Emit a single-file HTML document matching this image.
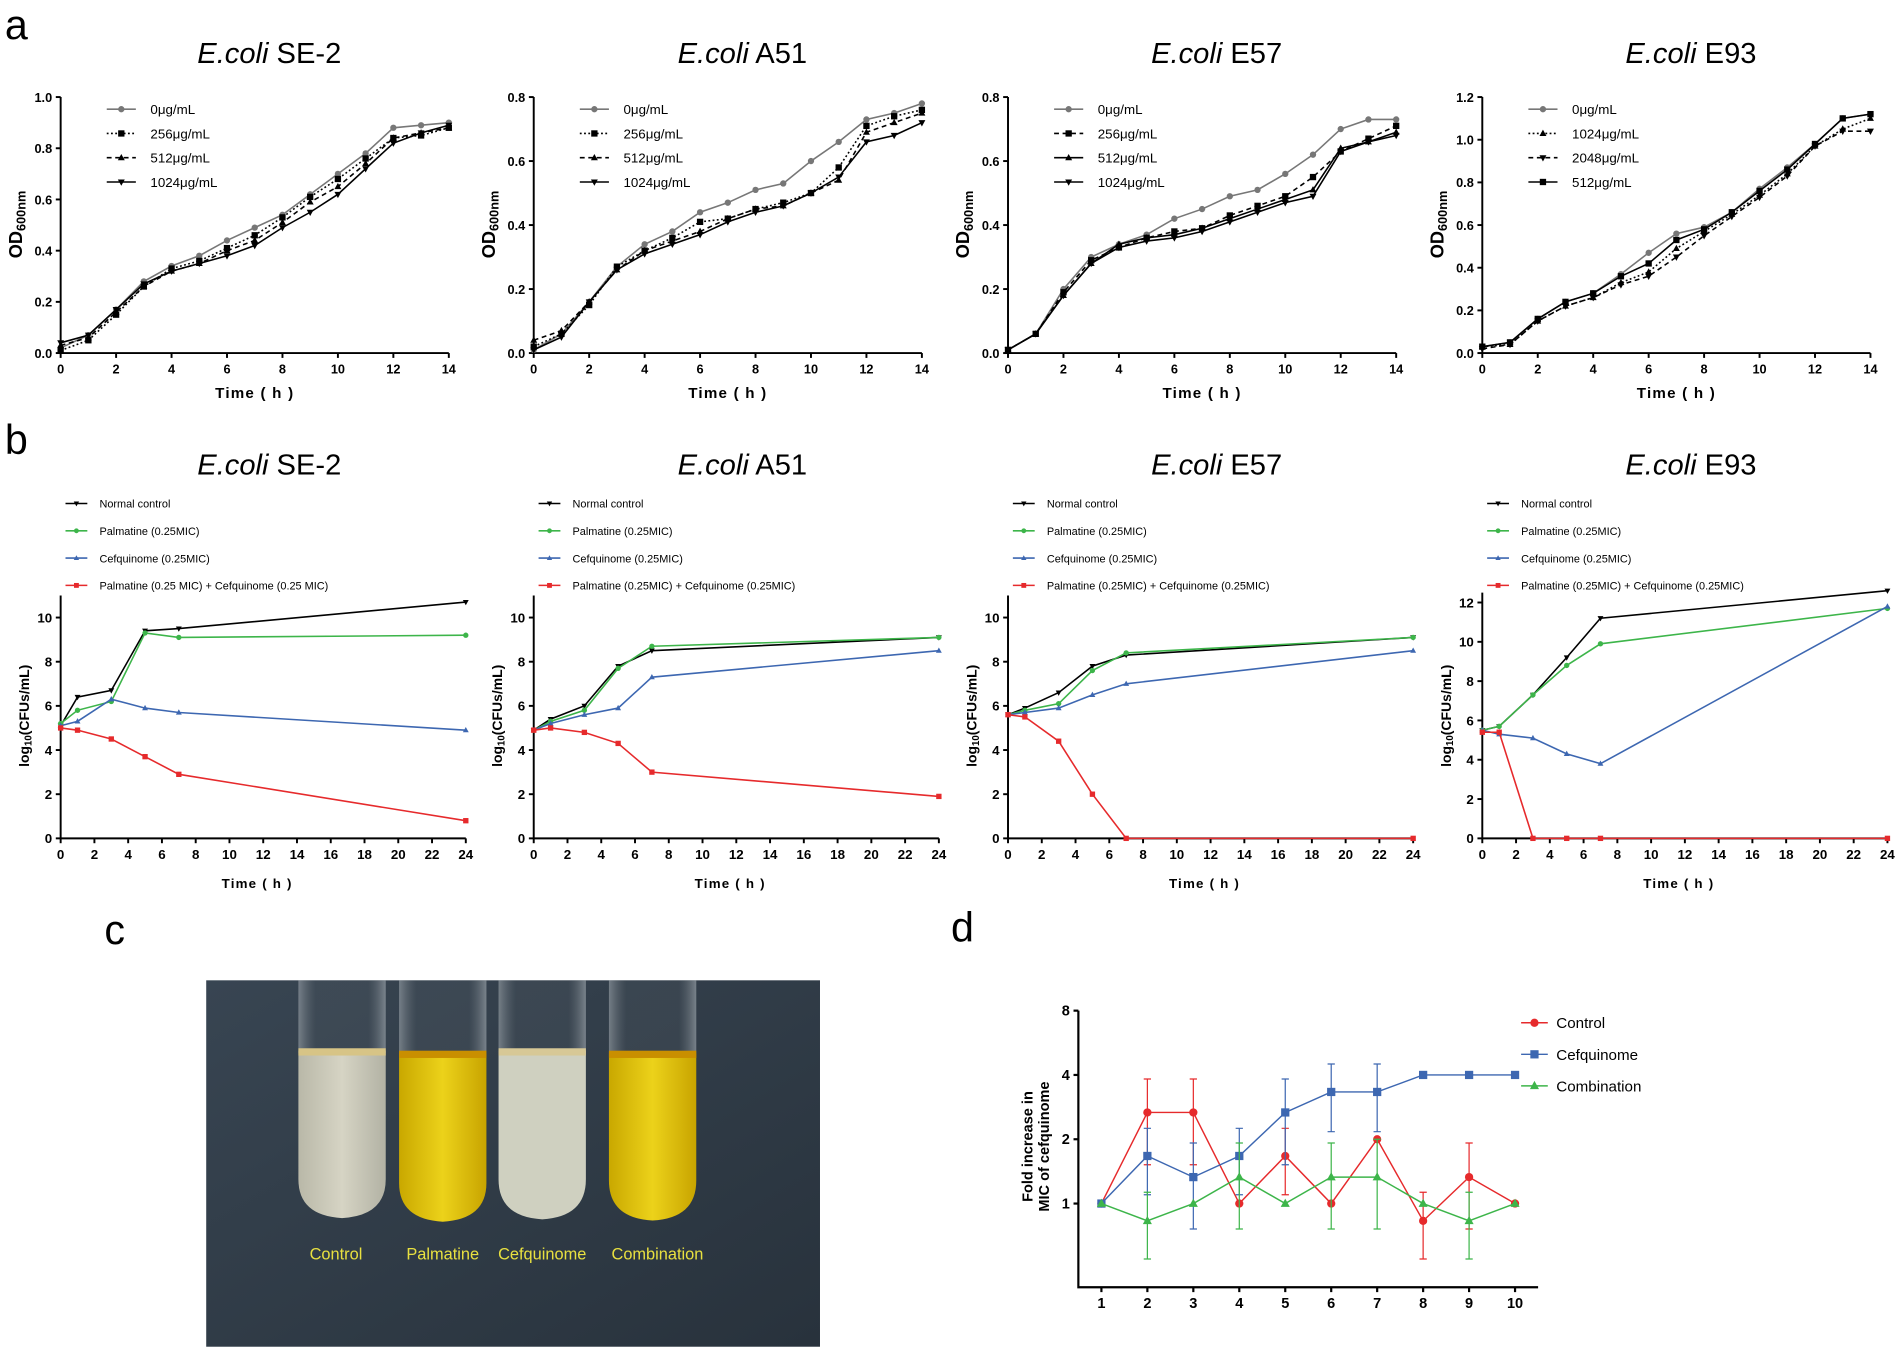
<!DOCTYPE html>
<html><head><meta charset="utf-8"><style>
html,body{margin:0;padding:0;background:#fff;}
svg{display:block;font-family:"Liberation Sans",Arial,sans-serif;}
</style></head><body>
<svg id="fig" width="1902" height="1354" viewBox="0 0 1568 1116" preserveAspectRatio="none" xmlns="http://www.w3.org/2000/svg">
<rect x="0" y="0" width="1568" height="1116" fill="#fff"/>
<text x="4" y="32" font-size="34">a</text>
<text x="4" y="374" font-size="34">b</text>
<text x="86" y="778" font-size="34">c</text>
<text x="784" y="776" font-size="34">d</text>
<defs>
<linearGradient id="bg" x1="0" y1="0" x2="1" y2="1"><stop offset="0" stop-color="#384552"/><stop offset="1" stop-color="#28323c"/></linearGradient>
<linearGradient id="clear" x1="0" x2="1"><stop offset="0" stop-color="#b9b8a8"/><stop offset="0.5" stop-color="#d6d4c4"/><stop offset="1" stop-color="#b2b2a4"/></linearGradient>
<linearGradient id="yel" x1="0" x2="1"><stop offset="0" stop-color="#c9a800"/><stop offset="0.5" stop-color="#ecd21a"/><stop offset="1" stop-color="#c8a400"/></linearGradient>
<linearGradient id="glass" x1="0" x2="1"><stop offset="0" stop-color="#a0a8ae" stop-opacity="0.6"/><stop offset="0.2" stop-color="#5b646c" stop-opacity="0.2"/><stop offset="0.8" stop-color="#5b646c" stop-opacity="0.2"/><stop offset="1" stop-color="#a8b0b6" stop-opacity="0.6"/></linearGradient>
</defs>
<g>
<rect x="170" y="808" width="506" height="302" fill="url(#bg)"/>
<g><rect x="246" y="808" width="72" height="60" fill="url(#glass)"/><path d="M246 866 H318 V972 Q318 1002 282 1004 Q246 1002 246 972 Z" fill="url(#clear)"/><rect x="246" y="864" width="72" height="6" fill="#d7c486"/></g>
<g><rect x="329" y="808" width="72" height="60" fill="url(#glass)"/><path d="M329 868 H401 V975 Q401 1005 365 1007 Q329 1005 329 975 Z" fill="url(#yel)"/><rect x="329" y="866" width="72" height="6" fill="#c98f00"/></g>
<g><rect x="411" y="808" width="72" height="60" fill="url(#glass)"/><path d="M411 866 H483 V972 Q483 1003 447 1005 Q411 1003 411 972 Z" fill="#cfd0c0"/><rect x="411" y="864" width="72" height="6" fill="#d7c896"/></g>
<g><rect x="502" y="808" width="72" height="60" fill="url(#glass)"/><path d="M502 868 H574 V973 Q574 1004 538 1006 Q502 1004 502 973 Z" fill="url(#yel)"/><rect x="502" y="866" width="72" height="6" fill="#c98f00"/></g>
<g font-size="13.5" fill="#e8e040" text-anchor="middle">
<text x="277" y="1038">Control</text>
<text x="365" y="1038">Palmatine</text>
<text x="447" y="1038">Cefquinome</text>
<text x="542" y="1038">Combination</text>
</g>
</g>
</svg>
<script>
// ---------- Panel a data ----------
const aTimes = [0,1,2,3,4,5,6,7,8,9,10,11,12,13,14];
const aTicksX = [0,2,4,6,8,10,12,14];
const aSE2_0    = [0.02,0.07,0.17,0.28,0.34,0.38,0.44,0.49,0.54,0.62,0.70,0.78,0.88,0.89,0.90];
const aSE2_256  = [0.01,0.05,0.15,0.26,0.33,0.36,0.41,0.46,0.53,0.61,0.68,0.76,0.84,0.85,0.88];
const aSE2_512  = [0.03,0.06,0.16,0.26,0.32,0.35,0.40,0.44,0.51,0.59,0.65,0.74,0.84,0.86,0.88];
const aSE2_1024 = [0.04,0.07,0.17,0.27,0.32,0.35,0.38,0.42,0.49,0.55,0.62,0.72,0.82,0.86,0.89];
const aA51_0    = [0.01,0.06,0.16,0.27,0.34,0.38,0.44,0.47,0.51,0.53,0.60,0.66,0.73,0.75,0.78];
const aA51_256  = [0.02,0.06,0.15,0.27,0.32,0.36,0.41,0.42,0.45,0.47,0.50,0.58,0.71,0.74,0.76];
const aA51_512  = [0.04,0.07,0.16,0.26,0.32,0.35,0.38,0.42,0.45,0.46,0.50,0.54,0.69,0.72,0.75];
const aA51_1024 = [0.01,0.05,0.16,0.26,0.31,0.34,0.37,0.41,0.44,0.46,0.50,0.55,0.66,0.68,0.72];
const aE57_0    = [0.01,0.06,0.20,0.30,0.34,0.37,0.42,0.45,0.49,0.51,0.56,0.62,0.70,0.73,0.73];
const aE57_256  = [0.01,0.06,0.19,0.29,0.33,0.36,0.38,0.39,0.43,0.46,0.49,0.55,0.63,0.67,0.71];
const aE57_512  = [0.01,0.06,0.18,0.28,0.34,0.36,0.37,0.39,0.42,0.45,0.48,0.51,0.64,0.66,0.69];
const aE57_1024 = [0.01,0.06,0.18,0.28,0.33,0.35,0.36,0.38,0.41,0.44,0.47,0.49,0.63,0.66,0.68];
const aE93_0    = [0.03,0.05,0.16,0.24,0.28,0.37,0.47,0.56,0.59,0.66,0.77,0.87,0.98,1.10,1.12];
const aE93_1024 = [0.03,0.04,0.15,0.22,0.26,0.33,0.38,0.49,0.57,0.65,0.74,0.84,0.97,1.05,1.10];
const aE93_2048 = [0.02,0.04,0.15,0.22,0.26,0.32,0.36,0.45,0.55,0.64,0.73,0.83,0.97,1.04,1.04];
const aE93_512  = [0.03,0.05,0.16,0.24,0.28,0.36,0.42,0.53,0.58,0.66,0.76,0.86,0.98,1.10,1.12];
// ---------- Panel b data ----------
const bTimes = [0,1,3,5,7,24];
const bTicksX = [0,2,4,6,8,10,12,14,16,18,20,22,24];
const bSE2_normal = [5.1,6.4,6.7,9.4,9.5,10.7];
const bSE2_palm   = [5.2,5.8,6.2,9.3,9.1,9.2];
const bSE2_cef    = [5.1,5.3,6.3,5.9,5.7,4.9];
const bSE2_comb   = [5.0,4.9,4.5,3.7,2.9,0.8];
const bA51_normal = [4.9,5.4,6.0,7.8,8.5,9.1];
const bA51_palm   = [4.9,5.3,5.8,7.7,8.7,9.1];
const bA51_cef    = [4.9,5.2,5.6,5.9,7.3,8.5];
const bA51_comb   = [4.9,5.0,4.8,4.3,3.0,1.9];
const bE57_normal = [5.6,5.9,6.6,7.8,8.3,9.1];
const bE57_palm   = [5.6,5.8,6.1,7.6,8.4,9.1];
const bE57_cef    = [5.6,5.7,5.9,6.5,7.0,8.5];
const bE57_comb   = [5.6,5.5,4.4,2.0,0,0];
const bE93_normal = [5.5,5.7,7.3,9.2,11.2,12.6];
const bE93_palm   = [5.5,5.7,7.3,8.8,9.9,11.7];
const bE93_cef    = [5.5,5.3,5.1,4.3,3.8,11.8];
const bE93_comb   = [5.4,5.4,0,0,0,0];
// ---------- Panel d data ----------
const dDays = [1,2,3,4,5,6,7,8,9,10];
const dTicksY = [1,2,4,8];
const dControl = [1,2.67,2.67,1,1.67,1,2,0.83,1.33,1];
const dControlHi = [1,3.83,3.83,1,2.25,1,2,1.13,1.92,1];
const dControlLo = [1,1.52,1.52,1,1.1,1,2,0.55,0.76,1];
const dCef = [1,1.67,1.33,1.67,2.67,3.33,3.33,4,4,4];
const dCefHi = [1,2.25,1.92,2.25,3.83,4.5,4.5,4,4,4];
const dCefLo = [1,1.1,0.76,1.1,1.52,2.17,2.17,4,4,4];
const dComb = [1,0.83,1,1.33,1,1.33,1.33,1,0.83,1];
const dCombHi = [1,1.13,1,1.92,1,1.92,2,1,1.13,1];
const dCombLo = [1,0.55,1,0.76,1,0.76,0.76,1,0.55,1];

const NS = "http://www.w3.org/2000/svg";
const svg = document.getElementById('fig');
function mk(tag, attrs, parent){
  const e = document.createElementNS(NS, tag);
  for (const k in attrs) e.setAttribute(k, attrs[k]);
  (parent||svg).appendChild(e);
  return e;
}
function marker(g, type, x, y, s, color){
  let e;
  if (type==='circle') e = mk('circle',{cx:x,cy:y,r:s,fill:color},g);
  else if (type==='square') e = mk('rect',{x:x-s,y:y-s,width:2*s,height:2*s,fill:color},g);
  else if (type==='up') e = mk('polygon',{points:`${x},${y-s*1.2} ${x-s*1.1},${y+s*0.8} ${x+s*1.1},${y+s*0.8}`,fill:color},g);
  else e = mk('polygon',{points:`${x},${y+s*1.2} ${x-s*1.1},${y-s*0.8} ${x+s*1.1},${y-s*0.8}`,fill:color},g);
  
  
}
function axes(g, o){
  const ax = mk('path',{d:`M${o.x0} ${o.yTop} V${o.y0} H${o.x1}`,fill:'none',stroke:'#000','stroke-width':o.sw},g);
  
  
  o.yt.forEach(v=>{
    const y=o.ys(v);
    mk('line',{x1:o.x0-4,x2:o.x0,y1:y,y2:y,stroke:'#000','stroke-width':o.sw},g);
    const t=mk('text',{x:o.x0-7,y:y+4,'font-size':o.fs,'font-weight':'bold','text-anchor':'end'},g);
    t.textContent=o.yfmt(v);
    
    
  });
  o.xt.forEach(v=>{
    const x=o.xs(v);
    mk('line',{x1:x,x2:x,y1:o.y0,y2:o.y0+4,stroke:'#000','stroke-width':o.sw},g);
    const t=mk('text',{x:x,y:o.y0+17,'font-size':o.fs,'font-weight':'bold','text-anchor':'middle'},g);
    t.textContent=String(v);
    
    
  });
}
function series(g, xs, ys, X, Y, color, dash, mtype, ms, sw){
  const pts = X.map((v,i)=>`${xs(v)},${ys(Y[i])}`).join(' ');
  const l = mk('polyline',{points:pts,fill:'none',stroke:color,'stroke-width':sw,'stroke-dasharray':dash||'none'},g);
  
  
  X.forEach((v,i)=>marker(g,mtype,xs(v),ys(Y[i]),ms,color));
}
function title(x,y,name){
  const t=mk('text',{x:x,y:y,'font-size':24,'text-anchor':'middle'});
  t.innerHTML=`<tspan font-style="italic">E.coli</tspan> ${name}`;
  
  
}

// ---------- Panel a ----------
const aPanels = [
  {name:'SE-2', x0:50, ymax:1.0, s:[[aSE2_0,'0μg/mL','circle','none','#777'],[aSE2_256,'256μg/mL','square','1.5 2','#000'],[aSE2_512,'512μg/mL','up','4 3','#000'],[aSE2_1024,'1024μg/mL','down','','#000']]},
  {name:'A51', x0:440, ymax:0.8, s:[[aA51_0,'0μg/mL','circle','none','#777'],[aA51_256,'256μg/mL','square','1.5 2','#000'],[aA51_512,'512μg/mL','up','4 3','#000'],[aA51_1024,'1024μg/mL','down','','#000']]},
  {name:'E57', x0:831, ymax:0.8, s:[[aE57_0,'0μg/mL','circle','none','#777'],[aE57_256,'256μg/mL','square','4 3','#000'],[aE57_512,'512μg/mL','up','','#000'],[aE57_1024,'1024μg/mL','down','','#000']]},
  {name:'E93', x0:1222, ymax:1.2, s:[[aE93_0,'0μg/mL','circle','none','#777'],[aE93_1024,'1024μg/mL','up','1.5 2','#000'],[aE93_2048,'2048μg/mL','down','4 3','#000'],[aE93_512,'512μg/mL','square','','#000']]}
];
aPanels.forEach(p=>{
  const g=mk('g',{});
  
  
  const y0=291, yTop=80, w=320;
  const xs=v=>p.x0+v/14*w, ys=v=>y0-v/p.ymax*(y0-yTop);
  const yt=[]; for(let v=0; v<=p.ymax+1e-9; v+=0.2) yt.push(+v.toFixed(1));
  axes(g,{x0:p.x0,x1:p.x0+w,y0,yTop,xs,ys,xt:aTicksX,yt,fs:10.5,sw:1.6,yfmt:v=>v.toFixed(1)});
  p.s.forEach((s,i)=>{
    series(g,xs,ys,aTimes,s[0],s[4],s[3]==='none'?'':s[3],s[2],2.6,1.3);
    const ly=90+i*20;
    const ll=mk('line',{x1:p.x0+38,x2:p.x0+62,y1:ly,y2:ly,stroke:s[4],'stroke-width':1.3,'stroke-dasharray':s[3]==='none'||s[3]===''?'none':s[3]},g);
    
    
    marker(g,s[2],p.x0+50,ly,2.6,s[4]);
    const t=mk('text',{x:p.x0+74,y:ly+4,'font-size':11},g);
    t.textContent=s[1];
    
    
  });
  const xl=mk('text',{x:p.x0+w/2,y:328,'font-size':12.5,'font-weight':'bold','text-anchor':'middle','letter-spacing':'1'},g);
  xl.textContent='Time ( h )';
  
  
  const yl=mk('text',{x:0,y:0,'font-size':15,'font-weight':'bold','text-anchor':'middle',transform:`translate(${p.x0-32},185) rotate(-90)`},g);
  yl.innerHTML='OD<tspan font-size="10.5" dy="3">600nm</tspan>';
  
  
  title(p.x0+172,52,p.name);
});

// ---------- Panel b ----------
const GREEN='#3db54a', BLUE='#3d67b1', RED='#e62a2c';
const bPanels = [
  {name:'SE-2', x0:50, top:11, ymax:11, yt:[0,2,4,6,8,10], s:[bSE2_normal,bSE2_palm,bSE2_cef,bSE2_comb], comb:'Palmatine (0.25 MIC) + Cefquinome (0.25 MIC)'},
  {name:'A51', x0:440, top:11, ymax:11, yt:[0,2,4,6,8,10], s:[bA51_normal,bA51_palm,bA51_cef,bA51_comb], comb:'Palmatine (0.25MIC) + Cefquinome (0.25MIC)'},
  {name:'E57', x0:831, top:11, ymax:11, yt:[0,2,4,6,8,10], s:[bE57_normal,bE57_palm,bE57_cef,bE57_comb], comb:'Palmatine (0.25MIC) + Cefquinome (0.25MIC)'},
  {name:'E93', x0:1222, top:12.5, ymax:12.5, yt:[0,2,4,6,8,10,12], s:[bE93_normal,bE93_palm,bE93_cef,bE93_comb], comb:'Palmatine (0.25MIC) + Cefquinome (0.25MIC)'}
];
bPanels.forEach(p=>{
  const g=mk('g',{});
  
  
  const y0=691, yTop=y0-p.top*(p.ymax===11?18.2:16.2), w=334;
  const unit=(y0-yTop)/p.top;
  const xs=v=>p.x0+v/24*w, ys=v=>y0-v*unit;
  axes(g,{x0:p.x0,x1:p.x0+w,y0,yTop,xs,ys,xt:bTicksX,yt:p.yt,fs:11,sw:1.6,yfmt:v=>String(v)});
  const cols=['#000',GREEN,BLUE,RED], mt=['down','circle','up','square'];
  const names=['Normal control','Palmatine (0.25MIC)','Cefquinome (0.25MIC)',p.comb];
  p.s.forEach((Y,i)=>{
    series(g,xs,ys,bTimes,Y,cols[i],'',mt[i],2.2,1.3);
    const ly=415+i*22.5;
    const ll=mk('line',{x1:p.x0+4,x2:p.x0+22,y1:ly,y2:ly,stroke:cols[i],'stroke-width':1.3},g);
    
    
    marker(g,mt[i],p.x0+13,ly,2,cols[i]);
    const t=mk('text',{x:p.x0+32,y:ly+3.5,'font-size':9},g);
    t.textContent=names[i];
    
    
  });
  const xl=mk('text',{x:p.x0+w/2-5,y:732,'font-size':11,'font-weight':'bold','text-anchor':'middle','letter-spacing':'1'},g);
  xl.textContent='Time ( h )';
  
  
  const yl=mk('text',{x:0,y:0,'font-size':11.5,'font-weight':'bold','text-anchor':'middle',transform:`translate(${p.x0-26},590) rotate(-90)`},g);
  yl.innerHTML='log<tspan font-size="8" dy="2">10</tspan><tspan dy="-2">(CFUs/mL)</tspan>';
  
  
  title(p.x0+172,391,p.name);
});

// ---------- Panel d ----------
(function(){
  const g=mk('g',{});
  
  
  const x0=889, x1=1268, y0=1061, yTop=833;
  const xs=v=>908+(v-1)/9*(1249-908);
  const ys=v=>992-Math.log2(v)*53;
  axes(g,{x0,x1,y0,yTop,xs,ys,xt:dDays,yt:dTicksY,fs:12,sw:1.8,yfmt:v=>String(v)});
  const sets=[[dControl,dControlHi,dControlLo,RED,'circle','Control'],[dCef,dCefHi,dCefLo,BLUE,'square','Cefquinome'],[dComb,dCombHi,dCombLo,GREEN,'up','Combination']];
  sets.forEach((s,i)=>{
    dDays.forEach((d,j)=>{
      if (s[1][j]===s[2][j]) return;
      const x=xs(d);
      const eb=mk('path',{d:`M${x} ${ys(s[1][j])} V${ys(s[2][j])} M${x-3} ${ys(s[1][j])} H${x+3} M${x-3} ${ys(s[2][j])} H${x+3}`,stroke:s[3],'stroke-width':1,fill:'none'},g);
      
      
    });
    series(g,xs,ys,dDays,s[0],s[3],'',s[4],3.4,1.2);
    const ly=843+i*26;
    const ll=mk('line',{x1:1254,x2:1276,y1:ly,y2:ly,stroke:s[3],'stroke-width':1.2},g);
    
    
    marker(g,s[4],1265,ly,3.4,s[3]);
    const t=mk('text',{x:1283,y:ly+4.5,'font-size':12.5},g);
    t.textContent=s[5];
    
    
  });
  const xl=mk('text',{x:1075,y:1131,'font-size':12.5,'font-weight':'bold','text-anchor':'middle'},g);
  xl.textContent='Times ( days )';
  
  
  const yl=mk('text',{x:0,y:0,'font-size':12,'font-weight':'bold','text-anchor':'middle',transform:'translate(851,945) rotate(-90)'},g);
  yl.innerHTML='<tspan x="0" dy="0">Fold increase in</tspan><tspan x="0" dy="14">MIC of cefquinome</tspan>';
  
  
})();
</script>
</body></html>
